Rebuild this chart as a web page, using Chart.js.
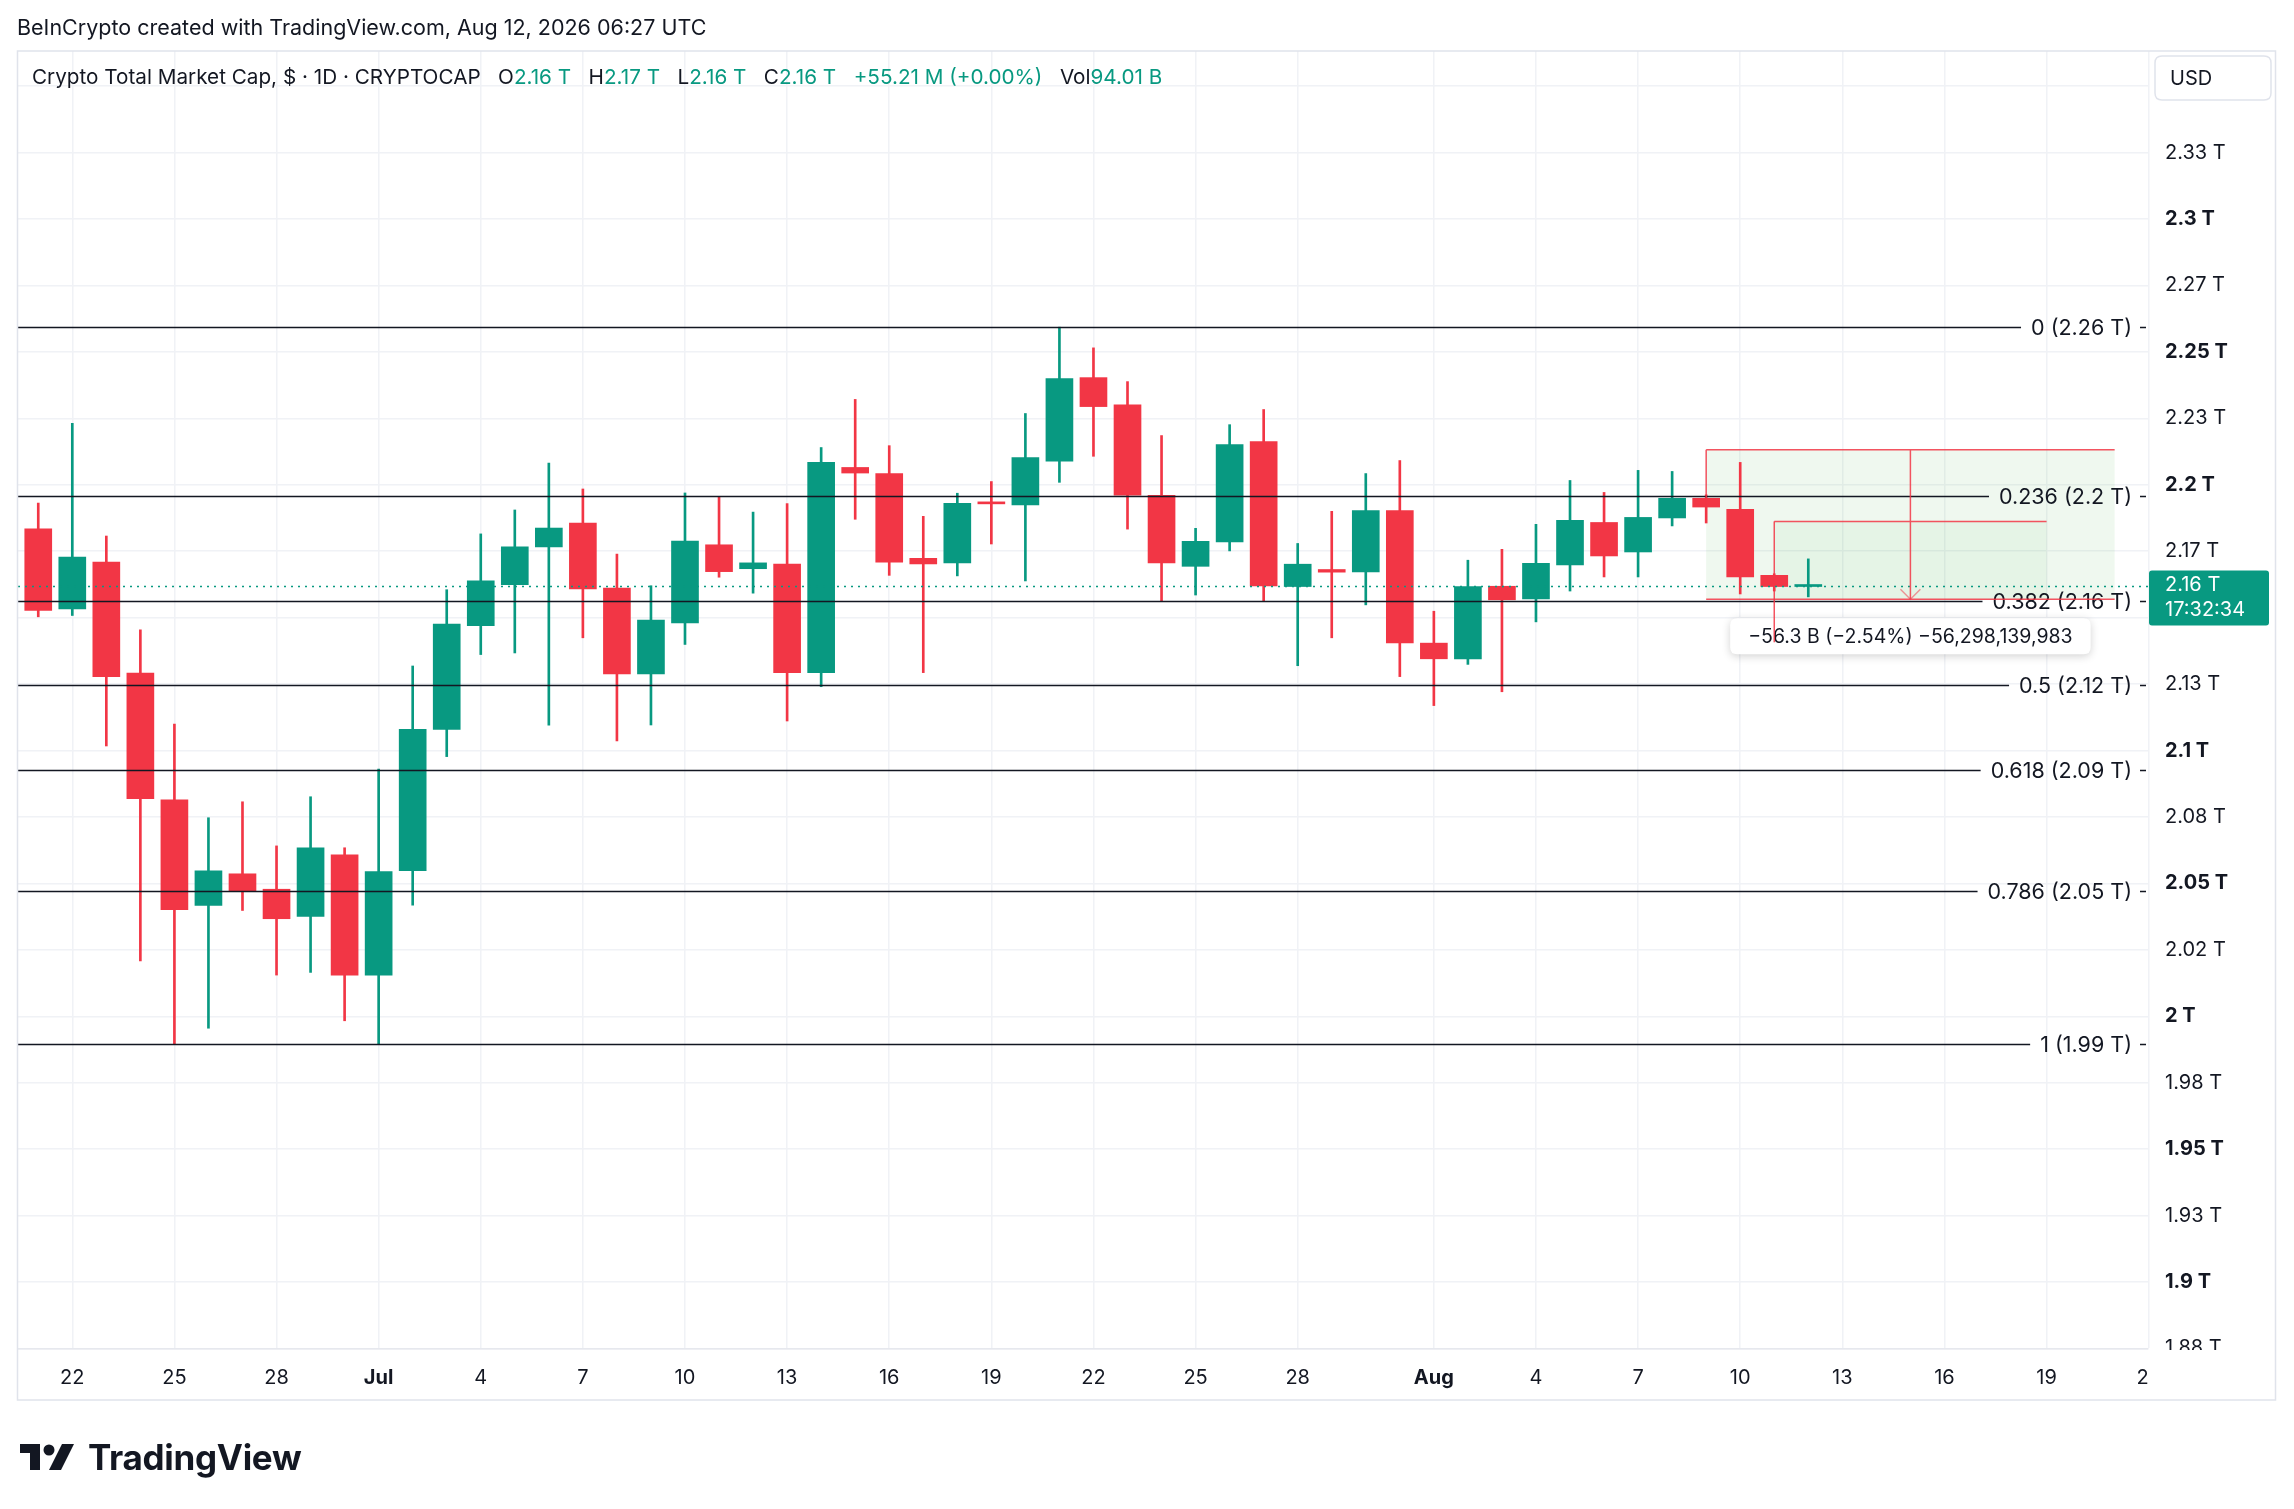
<!DOCTYPE html>
<html>
<head>
<meta charset="utf-8">
<script src="https://cdn.jsdelivr.net/npm/chart.js@4.4.1/dist/chart.umd.min.js"></script>
<style>
html,body{margin:0;padding:0;background:#fff;width:2294px;height:1509px;overflow:hidden;font-family:Inter,"Noto Sans",sans-serif;}
#wrap{position:relative;width:2294px;height:1509px;}
#c{position:absolute;left:0;top:0;}
.t{position:absolute;white-space:pre;color:#131722;line-height:1;}
.g{color:#089981;}
#logo{position:absolute;left:20px;top:1436px;display:flex;align-items:center;}
#logo span{font-size:35px;font-weight:700;color:#131722;margin-left:12px;letter-spacing:-0.3px;}
</style>
</head>
<body>
<div id="wrap">
<canvas id="c" width="2294" height="1509"></canvas>
<div class="t" style="left:17px;top:17px;font-size:21.5px;">BeInCrypto created with TradingView.com, Aug 12, 2026 06:27 UTC</div>
<div class="t" style="left:32px;top:67px;font-size:20.7px;">Crypto Total Market Cap, $ · 1D · CRYPTOCAP   O<span class="g">2.16 T</span>   H<span class="g">2.17 T</span>   L<span class="g">2.16 T</span>   C<span class="g">2.16 T</span>   <span class="g">+55.21 M (+0.00%)</span>   Vol<span class="g">94.01 B</span></div>
<div id="logo"><svg width="56" height="30" viewBox="0 0 56 30"><path d="M20 28H10V11H0V2h20z" fill="#131722"/><circle cx="29" cy="8" r="5.5" fill="#131722"/><path d="M42 2h12L41 28H29z" fill="#131722"/></svg><span>TradingView</span></div>
</div>
<script>
// ---- data (trillions USD), daily candles Jun 21 .. Aug 12 ----
const dates = ['Jun 21','Jun 22','Jun 23','Jun 24','Jun 25','Jun 26','Jun 27','Jun 28','Jun 29','Jun 30',
 'Jul 1','Jul 2','Jul 3','Jul 4','Jul 5','Jul 6','Jul 7','Jul 8','Jul 9','Jul 10','Jul 11','Jul 12','Jul 13','Jul 14','Jul 15','Jul 16','Jul 17','Jul 18','Jul 19','Jul 20','Jul 21','Jul 22','Jul 23','Jul 24','Jul 25','Jul 26','Jul 27','Jul 28','Jul 29','Jul 30','Jul 31',
 'Aug 1','Aug 2','Aug 3','Aug 4','Aug 5','Aug 6','Aug 7','Aug 8','Aug 9','Aug 10','Aug 11','Aug 12'];
const opens  = [2.1834,2.1533,2.1709,2.1291,2.0814,2.0417,2.0536,2.0478,2.0376,2.0607,
 2.0155,2.0548,2.1079,2.1470,2.1624,2.1766,2.1856,2.1611,2.1288,2.1480,2.1774,2.1684,2.1701,2.1293,2.2065,2.2042,2.1723,2.1706,2.1932,2.1924,2.2089,2.2403,2.2301,2.1960,2.1693,2.1785,2.2162,2.1617,2.1681,2.1672,2.1903,
 2.1404,2.1345,2.1618,2.1570,2.1698,2.1858,2.1747,2.1875,2.1949,2.1907,2.1659,2.1617];
const highs  = [2.1931,2.2231,2.1807,2.1454,2.1099,2.0747,2.0807,2.0641,2.0826,2.0634,
 2.0930,2.1318,2.1605,2.1815,2.1905,2.2081,2.1984,2.1739,2.1620,2.1969,2.1956,2.1897,2.1929,2.2140,2.2321,2.2147,2.1881,2.1968,2.2012,2.2268,2.2593,2.2515,2.2388,2.2185,2.1836,2.2226,2.2283,2.1779,2.1900,2.2042,2.2091,
 2.1524,2.1716,2.1757,2.1851,2.2016,2.1971,2.2054,2.2050,2.1962,2.2084,2.1665,2.1721];
const lows   = [2.1503,2.1508,2.1017,2.0208,1.9896,1.9955,2.0398,2.0155,2.0165,1.9983,
 1.9896,2.0418,2.0977,2.1361,2.1367,2.1095,2.1424,2.1036,2.1096,2.1399,2.1652,2.1592,2.1111,2.1240,2.1870,2.1659,2.1293,2.1657,2.1777,2.1638,2.2009,2.2107,2.1833,2.1560,2.1585,2.1751,2.1560,2.1319,2.1424,2.1548,2.1278,
 2.1169,2.1324,2.1221,2.1484,2.1600,2.1653,2.1653,2.1845,2.1856,2.1589,2.1600,2.1578];
const closes = [2.1527,2.1728,2.1278,2.0819,2.0401,2.0547,2.0472,2.0367,2.0634,2.0155,
 2.0544,2.1080,2.1476,2.1638,2.1766,2.1837,2.1608,2.1288,2.1491,2.1788,2.1673,2.1706,2.1293,2.2084,2.2044,2.1709,2.1702,2.1930,2.1928,2.2102,2.2399,2.2294,2.1961,2.1706,2.1787,2.2151,2.1619,2.1701,2.1671,2.1903,2.1405,
 2.1345,2.1617,2.1567,2.1704,2.1866,2.1732,2.1877,2.1949,2.1916,2.1653,2.1617,2.16175];

// x axis: day index (0 = Jun 21)
const xTickDays   = [1,4,7,10,13,16,19,22,25,28,31,34,37,41,44,47,50,53,56,59,62];
const xTickLabels = ['22','25','28','Jul','4','7','10','13','16','19','22','25','28','Aug','4','7','10','13','16','19','22'];
// y axis
const yTickValues = [1.875,1.9,1.925,1.95,1.975,2.0,2.025,2.05,2.075,2.1,2.125,2.15,2.175,2.2,2.225,2.25,2.275,2.3,2.325,2.35];
const yTickLabels = ['1.88 T','1.9 T','1.93 T','1.95 T','1.98 T','2 T','2.02 T','2.05 T','2.08 T','2.1 T','2.13 T','2.15 T','2.17 T','2.2 T','2.23 T','2.25 T','2.27 T','2.3 T','2.33 T','2.35 T'];
// Fibonacci retracement levels
const fibRatios = ['0','0.236','0.382','0.5','0.618','0.786','1'];
const fibValues = [2.2593,2.1956,2.1563,2.1245,2.0926,2.0473,1.9896];
const fibPriceLabels = ['2.26 T','2.2 T','2.16 T','2.12 T','2.09 T','2.05 T','1.99 T'];
// price range measurement drawing
const rangeOuterDays = [49,61];
const rangeInnerDays = [51,59];
const rangeArrowDay = 55;
const rangeTop = 2.2132, rangeInnerTop = 2.1862, rangeBottom = 2.1569;
const rangeLabel = '\u221256.3 B (\u22122.54%) \u221256,298,139,983';
const priceBadge = ['2.16 T','17:32:34'];

const UP = '#089981', DOWN = '#F23645', TXT = '#131722', GRID = '#f0f2f6';
const FONT = 'Inter, "Noto Sans", sans-serif';
const colors = opens.map((o,i)=> closes[i] >= o ? UP : DOWN);
const bodies = opens.map((o,i)=>({x:i, y:[o, closes[i]]}));
const wicks  = opens.map((o,i)=>({x:i, y:[lows[i], highs[i]]}));

function rr(ctx,x,y,w,h,r){ctx.beginPath();ctx.moveTo(x+r,y);ctx.lineTo(x+w-r,y);ctx.quadraticCurveTo(x+w,y,x+w,y+r);ctx.lineTo(x+w,y+h-r);ctx.quadraticCurveTo(x+w,y+h,x+w-r,y+h);ctx.lineTo(x+r,y+h);ctx.quadraticCurveTo(x,y+h,x,y+h-r);ctx.lineTo(x,y+r);ctx.quadraticCurveTo(x,y,x+r,y);ctx.closePath();}

const overlay = {
  id:'overlay',
  beforeDatasetsDraw(chart){
    const {ctx, scales:{x,y}} = chart;
    ctx.save();
    const x0=x.getPixelForValue(rangeOuterDays[0]), x1=x.getPixelForValue(rangeOuterDays[1]);
    const yt=y.getPixelForValue(rangeTop), yb=y.getPixelForValue(rangeBottom);
    ctx.fillStyle='rgba(76,175,80,0.09)';
    ctx.fillRect(x0,yt,x1-x0,yb-yt);
    const xi0=x.getPixelForValue(rangeInnerDays[0]), xi1=x.getPixelForValue(rangeInnerDays[1]);
    const yit=y.getPixelForValue(rangeInnerTop);
    ctx.fillStyle='rgba(76,175,80,0.06)';
    ctx.fillRect(xi0,yit,xi1-xi0,yb-yit);
    ctx.restore();
  },
  afterDatasetsDraw(chart){
    const {ctx, chartArea:a, scales:{x,y}} = chart;
    ctx.save();
    // fib lines
    ctx.font = '21.5px '+FONT;
    ctx.textBaseline='middle'; ctx.textAlign='right';
    const labelRight = a.right - 16;
    fibValues.forEach((v,i)=>{
      const py = Math.round(y.getPixelForValue(v))+0.5;
      const txt = fibRatios[i]+' ('+fibPriceLabels[i]+')';
      const w = ctx.measureText(txt).width;
      ctx.strokeStyle='#131722'; ctx.lineWidth=1.4;
      ctx.beginPath(); ctx.moveTo(a.left,py); ctx.lineTo(labelRight-w-10,py);
      ctx.moveTo(labelRight+8,py); ctx.lineTo(a.right-2,py); ctx.stroke();
      ctx.fillStyle=TXT; ctx.fillText(txt,labelRight,py+1);
    });
    // current price dotted line
    const cp = y.getPixelForValue(closes[closes.length-1]);
    ctx.strokeStyle=UP; ctx.lineWidth=1.5; ctx.setLineDash([2,5]);
    ctx.beginPath(); ctx.moveTo(a.left,cp); ctx.lineTo(a.right,cp); ctx.stroke();
    ctx.setLineDash([]);
    // measurement lines
    const x0=x.getPixelForValue(rangeOuterDays[0]), x1=x.getPixelForValue(rangeOuterDays[1]);
    const xi0=x.getPixelForValue(rangeInnerDays[0]), xi1=x.getPixelForValue(rangeInnerDays[1]);
    const xa=x.getPixelForValue(rangeArrowDay);
    const yt=y.getPixelForValue(rangeTop), yb=y.getPixelForValue(rangeBottom), yit=y.getPixelForValue(rangeInnerTop);
    ctx.strokeStyle='rgba(242,54,69,0.85)'; ctx.lineWidth=1.5;
    ctx.beginPath();
    ctx.moveTo(x0,yt); ctx.lineTo(x1,yt);
    ctx.moveTo(x0,yb); ctx.lineTo(x1,yb);
    ctx.moveTo(x0,yt); ctx.lineTo(x0,yit);
    ctx.moveTo(xi0,yit); ctx.lineTo(xi1,yit);
    ctx.moveTo(xa,yt); ctx.lineTo(xa,yb);
    ctx.stroke();
    ctx.strokeStyle='rgba(242,54,69,0.5)';
    ctx.beginPath(); ctx.moveTo(xa-10,yb-10); ctx.lineTo(xa,yb); ctx.lineTo(xa+10,yb-10); ctx.stroke();
    // label box
    ctx.font='19.5px '+FONT;
    const lw = ctx.measureText(rangeLabel).width + 36;
    const bx = xa - lw/2, by = yb + 19, bh = 36;
    ctx.shadowColor='rgba(0,0,0,0.18)'; ctx.shadowBlur=8; ctx.shadowOffsetY=2;
    ctx.fillStyle='#fff'; rr(ctx,bx,by,lw,bh,7); ctx.fill();
    ctx.shadowColor='transparent'; ctx.shadowBlur=0; ctx.shadowOffsetY=0;
    ctx.fillStyle=TXT; ctx.textAlign='center'; ctx.textBaseline='middle';
    ctx.fillText(rangeLabel, xa, by+bh/2+1);
    ctx.strokeStyle='rgba(242,54,69,0.85)'; ctx.lineWidth=1.5;
    ctx.beginPath(); ctx.moveTo(xi0,yit); ctx.lineTo(xi0,by+bh/2+6); ctx.stroke();
    ctx.restore();
  },
  afterDraw(chart){
    const {ctx, chartArea:a, scales:{y}} = chart;
    ctx.save();
    // pane edge clipping of the bottom y label and the last time label
    ctx.fillStyle='#fff'; ctx.fillRect(a.right+1, a.bottom+1, 124, 48);
    // current price badge
    const cp = y.getPixelForValue(closes[closes.length-1]);
    ctx.fillStyle=UP; rr(ctx, a.right+1, cp-16, 120, 55, 3); ctx.fill();
    ctx.fillStyle='#fff'; ctx.font='20px '+FONT; ctx.textAlign='left'; ctx.textBaseline='middle';
    ctx.fillText(priceBadge[0], a.right+17, cp-1);
    ctx.fillText(priceBadge[1], a.right+17, cp+24);
    // USD box
    ctx.fillStyle='#fff'; ctx.strokeStyle='#e0e3eb'; ctx.lineWidth=1.5;
    rr(ctx, 2155, 56, 116, 44, 7); ctx.fill(); ctx.stroke();
    ctx.fillStyle=TXT; ctx.font='20px '+FONT; ctx.fillText('USD', 2170, 79);
    // panel border
    ctx.strokeStyle='#e0e3eb'; ctx.lineWidth=1.5;
    ctx.strokeRect(17.5, 51, 2258, 1349);
    ctx.restore();
  }
};

new Chart(document.getElementById('c'), {
  type:'bar',
  data:{datasets:[
    {label:'body', data:bodies, backgroundColor:colors, barThickness:27, minBarLength:2, grouped:false, order:0, borderWidth:0},
    {label:'wick', data:wicks, backgroundColor:colors, barThickness:2, grouped:false, order:1, borderWidth:0}
  ]},
  options:{
    responsive:false, animation:false, devicePixelRatio:1,
    layout:{padding:{left:18, top:51, right:19, bottom:109}},
    plugins:{legend:{display:false}, tooltip:{enabled:false}},
    scales:{
      x:{type:'linear', min:-0.595, max:61.98, offset:false,
        grid:{color:GRID, drawTicks:false, offset:false, lineWidth:1.5},
        border:{display:true, color:'#e6e8ee', width:1.5},
        ticks:{padding:17, autoSkip:false, maxRotation:0, color:TXT,
          callback:(v,i)=>xTickLabels[i],
          font:(c)=>({family:FONT, size:20, weight:(c.tick && (c.tick.value===10||c.tick.value===41))?'bold':'normal'})},
        afterBuildTicks:(s)=>{s.ticks = xTickDays.map(v=>({value:v}));},
        afterFit:(s)=>{s.height=51;}
      },
      y:{type:'linear', position:'right', min:1.8748, max:2.3632,
        grid:{color:GRID, drawTicks:false, lineWidth:1.5},
        border:{display:false},
        ticks:{padding:17, autoSkip:false, color:TXT,
          callback:(v,i)=>yTickLabels[i],
          font:(c)=>{const v=c.tick?c.tick.value:0; const b=Math.abs(v*20-Math.round(v*20))<1e-6; return {family:FONT, size:20, weight:b?'bold':'normal'};}},
        afterBuildTicks:(s)=>{s.ticks = yTickValues.map(v=>({value:v}));},
        afterFit:(s)=>{s.width=127;}
      }
    }
  },
  plugins:[overlay]
});
</script>
</body>
</html>
